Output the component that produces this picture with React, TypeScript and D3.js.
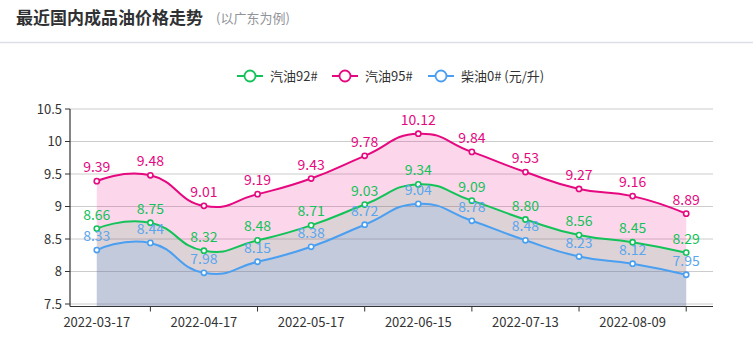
import React from 'react';
import * as d3 from 'd3';

const dates = ['2022-03-17', '2022-04-01', '2022-04-17', '2022-04-29', '2022-05-17', '2022-05-31',
  '2022-06-15', '2022-06-29', '2022-07-13', '2022-07-27', '2022-08-09', '2022-08-24'];
const gas92 = [8.66, 8.75, 8.32, 8.48, 8.71, 9.03, 9.34, 9.09, 8.80, 8.56, 8.45, 8.29];
const gas95 = [9.39, 9.48, 9.01, 9.19, 9.43, 9.78, 10.12, 9.84, 9.53, 9.27, 9.16, 8.89];
const diesel0 = [8.33, 8.44, 7.98, 8.15, 8.38, 8.72, 9.04, 8.78, 8.48, 8.23, 8.12, 7.95];
const yTicks = [7.5, 8, 8.5, 9, 9.5, 10, 10.5];

const FONT = '"Noto Sans CJK SC", "Noto Sans", sans-serif';

const series = [
  { name: '汽油92#', data: gas92, color: '#14c25a', label: '#14c25a', fill: 'rgba(0,190,80,0.12)', dec: 2, legendX: 237 },
  { name: '汽油95#', data: gas95, color: '#e5087f', label: '#e5087f', fill: 'rgba(238,10,130,0.17)', dec: 2, legendX: 332 },
  { name: '柴油0# (元/升)', data: diesel0, color: '#4b9ff0', label: '#5ba6ec', fill: 'rgba(77,160,240,0.18)', dec: 2, legendX: 428 },
];

const App = () => {
  const W = 753, H = 359;
  const left = 70, right = 713, top = 109, bottom = 304, axisY = 306.5;

  const x = d3.scaleBand<string>().domain(dates).range([left, right]);
  const cx = (d: string) => (x(d) as number) + x.bandwidth() / 2;
  const y = d3.scaleLinear().domain([7.5, 10.5]).range([bottom, top]);

  const curve = d3.curveCardinal.tension(-0.5);
  const line = d3.line<number>().x((_, i) => cx(dates[i])).y(v => y(v)).curve(curve);
  const area = d3.area<number>().x((_, i) => cx(dates[i])).y0(axisY).y1(v => y(v)).curve(curve);

  // fill draw order: 95 first, then 92, then diesel
  const fillOrder = [series[1], series[0], series[2]];

  return (
    <svg width={W} height={H} style={{ position: 'absolute', left: 0, top: 0, fontFamily: FONT }}>
      <rect width={W} height={H} fill="#fff" />
      <text x={16} y={24} fontSize={17} fontWeight="bold" fill="#303133">最近国内成品油价格走势</text>
      <text x={216} y={23} fontSize={13} fill="#909399">(以广东为例)</text>
      <line x1={0} x2={W} y1={42.5} y2={42.5} stroke="#dcdfe6" strokeWidth={1.5} />

      {/* legend */}
      {series.map(s => (
        <g key={s.name} transform={`translate(${s.legendX},76)`}>
          <line x1={0} x2={26} y1={0} y2={0} stroke={s.color} strokeWidth={2} />
          <circle cx={13} cy={0} r={5.5} fill="#fff" stroke={s.color} strokeWidth={1.8} />
          <text x={33} y={4.5} fontSize={13} fill="#333">{s.name}</text>
        </g>
      ))}

      {/* grid */}
      {yTicks.map(t => (
        <line key={t} x1={left} x2={right} y1={y(t)} y2={y(t)} stroke="#ccc" strokeWidth={1} />
      ))}

      {/* areas */}
      {fillOrder.map(s => (
        <path key={s.name} d={area(s.data) as string} fill={s.fill} />
      ))}

      {/* y axis */}
      <line x1={left} x2={left} y1={top} y2={axisY} stroke="#333" strokeWidth={1.2} />
      {yTicks.map(t => (
        <g key={t}>
          <line x1={left - 5} x2={left} y1={y(t)} y2={y(t)} stroke="#333" />
          <text x={left - 8} y={y(t) + 4.5} fontSize={13} textAnchor="end" fill="#333">{t}</text>
        </g>
      ))}

      {/* x axis */}
      <line x1={left} x2={right} y1={axisY} y2={axisY} stroke="#333" strokeWidth={1.2} />
      {dates.map((d, i) => i % 2 === 1 ? (
        <line key={d} x1={cx(d)} x2={cx(d)} y1={axisY} y2={axisY + 5} stroke="#333" />
      ) : (
        <text key={d} x={cx(d)} y={327} fontSize={13} textAnchor="middle" fill="#333">{d}</text>
      ))}

      {/* lines */}
      {series.map(s => (
        <path key={s.name} d={line(s.data) as string} fill="none" stroke={s.color} strokeWidth={2} />
      ))}

      {/* points */}
      {series.map(s => (
        <g key={s.name}>
          {s.data.map((v, i) => (
            <circle key={i} cx={cx(dates[i])} cy={y(v)} r={2.6} fill="#fff" stroke={s.color} strokeWidth={1.6} />
          ))}
        </g>
      ))}

      {/* labels */}
      {series.map(s => (
        <g key={s.name}>
          {s.data.map((v, i) => (
            <text key={i} x={cx(dates[i])} y={y(v) - 9} fontSize={14} textAnchor="middle" fill={s.label}>
              {v.toFixed(s.dec)}
            </text>
          ))}
        </g>
      ))}
    </svg>
  );
};

export default App;
